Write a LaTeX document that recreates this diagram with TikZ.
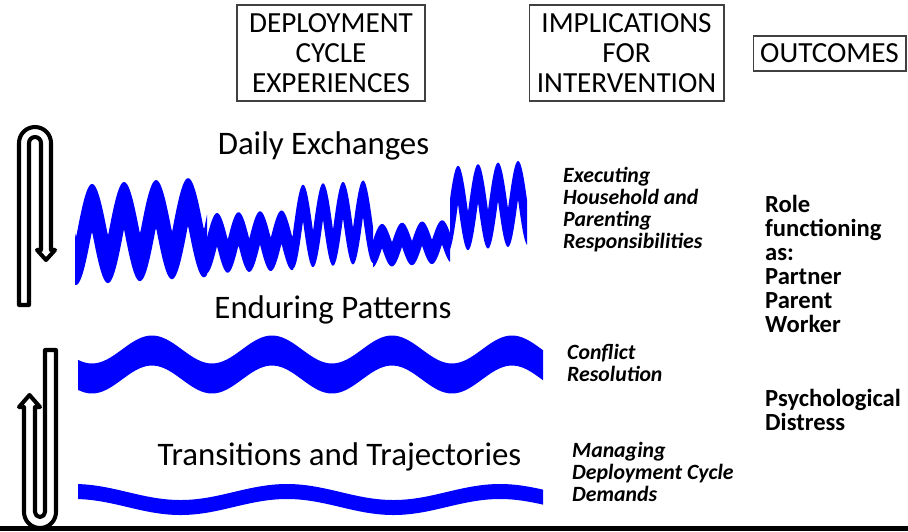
\documentclass[tikz,border=0pt]{standalone}
\usepackage{fontspec}
\setmainfont{Carlito}
\tikzset{>=stealth}
\tikzset{
	headbox/.style={draw=black!75, line width=0.6pt, align=center, font=\fontsize{16.6}{17}\selectfont},
	layer/.style={font=\fontsize{18.7}{20}\selectfont},
	impl/.style={anchor=west, align=left, font=\fontsize{12.4}{12.5}\selectfont\bfseries\itshape},
	outc/.style={anchor=west, align=left, font=\fontsize{14}{13.6}\selectfont\bfseries},
	wave/.style={fill=blue},
	clip/.style={draw=black, fill=white, line width=2.3pt, line join=round}
}

\begin{document}
\begin{tikzpicture}[x=0.02cm, y=-0.02cm]
	\useasboundingbox (0,0) rectangle (908,531);
	\node[headbox, minimum width=3.76cm, minimum height=1.92cm] (dce) at (331,53) {DEPLOYMENT\\CYCLE\\EXPERIENCES};
	\node[headbox, minimum width=3.9cm, minimum height=1.92cm] (ifi) at (626.5,53) {IMPLICATIONS\\FOR\\INTERVENTION};
	\node[headbox, minimum width=3.06cm, minimum height=0.7cm] (outc) at (829.5,53.5) {OUTCOMES};

	\node[layer] (daily) at (323.5,146) {Daily Exchanges};
	\node[layer] (enduring) at (333,310) {Enduring Patterns};
	\node[layer] (trans) at (339.5,457) {Transitions and Trajectories};

	\node[impl] (exec) at (557,210) {Executing\\Household and\\Parenting\\Responsibilities};
	\node[impl] (confl) at (561,363) {Conflict\\Resolution};
	\node[impl] (manag) at (566,471.5) {Managing\\Deployment Cycle\\Demands};

	\node[outc] (role) at (759,264) {Role\\functioning\\as:\\Partner\\Parent\\Worker};
	\node[outc] (psych) at (759,410) {Psychological\\Distress};

	\foreach \xs/\xe/\xpk/\per/\cy/\amp/\thk/\slope in {
		75/207/92/32/211.5/26.5/47/-0.06,
		207/293/217/21.5/227/13.5/33/-0.04,
		293/373/303/20/209/23.5/36/-0.07,
		373/450/382/20/234/9.5/24/-0.06,
		450/527/458/20/190/23.5/38/-0.08}
		\fill[wave] plot[domain=\xs:\xe, samples=160] (\x, {\cy + \slope*(\x-\xs) - \amp*(2*abs(cos((180/\per)*(\x-\xpk)))-1)})
			-- plot[domain=\xe:\xs, samples=160] (\x, {\cy + \thk - \amp + \slope*(\x-\xs) + 2*\amp*abs(sin((180/\per)*(\x-\xpk)))}) -- cycle;

	\foreach \xs/\xe/\xpk/\per/\cy/\amp/\thk in {
		78/543/152/120/349.5/14/30,
		78/543/287/213/492/8/15}
		\fill[wave] plot[domain=\xs:\xe, samples=90, smooth] (\x, {\cy - \amp*cos((360/\per)*(\x-\xpk))})
			-- plot[domain=\xe:\xs, samples=90, smooth] (\x, {\cy + \thk - \amp*cos((360/\per)*(\x-\xpk))}) -- cycle;

	\draw[clip] (19,305) -- (19,143) arc (180:360:16) -- (51,250) -- (55,250) -- (46,260) -- (37,250) -- (41,250)
		-- (41,143) arc (360:180:6) -- (29,305) -- cycle;
	\draw[clip] (56,350) -- (56,512) arc (0:180:16) -- (24,407) -- (19,407) -- (29.5,395) -- (40,407) -- (35,407)
		-- (35,512) arc (180:0:5) -- (45,350) -- cycle;

	\fill[black] (0,526) rectangle (908,531);
\end{tikzpicture}
\end{document}
